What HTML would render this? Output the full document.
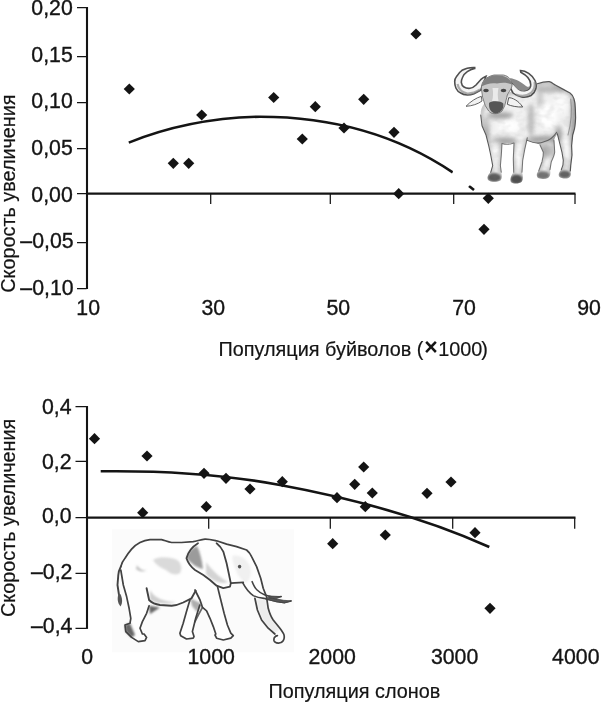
<!DOCTYPE html>
<html lang="ru"><head><meta charset="utf-8"><title>График</title>
<style>
html,body{margin:0;padding:0;background:#fff;overflow:hidden}
svg{display:block;font-family:"Liberation Sans",Arial,Helvetica,sans-serif}
.t{font-size:21.8px;fill:#141414;stroke:#141414;stroke-width:.35px}
.h{font-size:20.2px;fill:#141414;stroke:#141414;stroke-width:.2px}
</style></head>
<body>
<svg width="601" height="703" viewBox="0 0 601 703">
<rect width="601" height="703" fill="#fff"/>

<g id="chart-buffalo">
<g stroke="#141414" fill="none">
<path d="M87 7.1V289.1" stroke-width="2.1"/>
<path d="M86.6 193.7H575.5" stroke-width="2.2"/>
<path d="M77 7.6H86.6M77 56.6H86.6M77 102.5H86.6M77 148.5H86.6M77 193.7H86.6M77 242.6H86.6M77 288.5H86.6" stroke-width="1.25"/>
<path d="M210.7 193.7V204M330.3 193.7V204M453.7 193.7V204M575 193.7V204" stroke-width="1.25"/>
<path d="M128.8 142.6 Q 190 118 260 116.7 Q 370 116.7 452.7 172.3" stroke-width="2.6"/>
<path d="M469 186 L474 190" stroke-width="2.6"/>
</g>
<g fill="#141414"><path d="M129.3 83.4L134.9 89.0L129.3 94.6L123.7 89.0Z"/><path d="M201.7 109.4L207.3 115.0L201.7 120.6L196.1 115.0Z"/><path d="M173.3 157.7L178.9 163.3L173.3 168.9L167.7 163.3Z"/><path d="M188.7 157.7L194.3 163.3L188.7 168.9L183.1 163.3Z"/><path d="M273.7 91.9L279.3 97.5L273.7 103.1L268.1 97.5Z"/><path d="M302.3 133.4L307.9 139.0L302.3 144.6L296.7 139.0Z"/><path d="M315.3 101.1L320.9 106.7L315.3 112.3L309.7 106.7Z"/><path d="M344.0 122.4L349.6 128.0L344.0 133.6L338.4 128.0Z"/><path d="M363.7 93.7L369.3 99.3L363.7 104.9L358.1 99.3Z"/><path d="M394.0 126.7L399.6 132.3L394.0 137.9L388.4 132.3Z"/><path d="M416.0 28.4L421.6 34.0L416.0 39.6L410.4 34.0Z"/><path d="M398.7 188.1L404.3 193.7L398.7 199.3L393.1 193.7Z"/><path d="M488.3 192.7L493.9 198.3L488.3 203.9L482.7 198.3Z"/><path d="M484.0 223.7L489.6 229.3L484.0 234.9L478.4 229.3Z"/></g>
<text class="t" transform="translate(72.8 15.1) scale(0.977 1)" text-anchor="end">0,20</text>
<text class="t" transform="translate(72.8 61.9) scale(0.977 1)" text-anchor="end">0,15</text>
<text class="t" transform="translate(72.8 108.4) scale(0.977 1)" text-anchor="end">0,10</text>
<text class="t" transform="translate(72.8 155.2) scale(0.977 1)" text-anchor="end">0,05</text>
<text class="t" transform="translate(72.8 201.7) scale(0.977 1)" text-anchor="end">0,00</text>
<text class="t" transform="translate(73.6 248.0) scale(0.977 1)" text-anchor="end">–0,05</text>
<text class="t" transform="translate(73.6 295.0) scale(0.977 1)" text-anchor="end">–0,10</text>
<text class="t" transform="translate(88.2 314.9) scale(0.977 1)" text-anchor="middle">10</text>
<text class="t" transform="translate(213.3 314.9) scale(0.977 1)" text-anchor="middle">30</text>
<text class="t" transform="translate(338.3 314.9) scale(0.977 1)" text-anchor="middle">50</text>
<text class="t" transform="translate(464 314.9) scale(0.977 1)" text-anchor="middle">70</text>
<text class="t" transform="translate(589 314.9) scale(0.977 1)" text-anchor="middle">90</text>
<text class="h" transform="translate(218.5 356.4) scale(0.983 1)">Популяция буйволов (<tspan dx="0.9" dy="-1.6" font-size="23.5" font-weight="bold" stroke="none">×</tspan><tspan dx="0.4" dy="1.6">1000</tspan><tspan dx="-1">)</tspan></text>
<text class="h" transform="translate(15.0 292.7) rotate(-90) scale(0.981 1)">Скорость увеличения</text>
</g>
<defs>
<clipPath id="elclip"><rect x="111.7" y="529.2" width="182.3" height="123.2"/></clipPath>
<path id="elSil" d="M120.8 566.6 C122 562 123.5 560 125 558.3 C127 555 129 552 131.6 549.1 C134 546.5 137 544 140 542.5 C143 541 146 540 150 539.6 L161.6 539.6 C165 540.5 168 542 171.6 542.5 L181.5 542.5 L193.2 541.6 C197 541 201 539.5 205 539.1 C209 539 213 540 216.6 540.8 L226.6 544.1 L236.6 546.6 L246.6 550 C249 552 250.5 554 251.6 556.6 L256.6 566.6 L260.7 578.2 L263.2 588.2 L266.5 596.6 L268.2 608.3 C269.5 613 271 617 273.2 620 L279.9 628.2 C282 631 283.5 633 284 634.9 C284.5 637 284.3 639 283.2 640.7 C282 642.5 280 643.3 278.2 643.2 C276 643 274.5 642 274 640.7 L274.9 634 L268.2 628.2 L261.6 620 L257.4 610 L254.9 598.3 L250 590 L243.3 582.4 L230.8 583.2 L230 586.6 L223.3 588.2 L217.5 586.6 L220.8 600 L224.1 613.3 L227.4 625 L230.8 633.2 L233.3 635.7 L230.8 638.2 L223.3 640 L216.6 638.2 L215 635 L215.8 634 L213.3 626.6 L210 618.3 L206.6 610.8 L202.5 607.4 L199.8 605 L195.7 618.3 L192.4 631.6 L194 636.6 L193.2 638.2 L186.5 639 L180.7 635.7 L179.9 633.2 L183.2 623.3 L186.5 611.6 L189.9 600 L183.2 602.5 C180 604 176 605.5 171.6 605.8 L160 605 L149.1 605.8 L146.6 613.3 L142.4 621.6 L140 628.2 L142.4 634 L144.1 634 L146.6 637.4 L145 640.7 L138.3 641.6 L131.6 637.4 L125.8 631.6 L125 625 L130 623.3 L130.8 618.3 L129.1 608.3 L126.6 596.6 L123.3 585 Z"/>
</defs>
<g id="elephant" clip-path="url(#elclip)">
<rect x="111.7" y="529.2" width="182.3" height="123.2" fill="#fbfbfb"/>
<use href="#elSil" fill="#fefefe" filter="url(#bl0)"/>
<g filter="url(#bl3)" fill="#888">
<path d="M153 560 C158 556 168 557 175 559 C181 561 183 568 180 573 C176 576 170 574 166 570 C161 568 156 565 153 560Z" opacity=".3"/>
<path d="M137 565 C139 569 143 571 147 570 C144 572 139 572 136 569Z" opacity=".5"/>
<path d="M186.5 558 C188 552 192 548 197 546 C200 552 202 560 203 569 C198 568 191 564 186.5 558Z" opacity=".65" fill="#666"/>
<path d="M149.1 605.8 L160 607.4 L150 614Z" fill="#555" opacity=".9"/>
<path d="M125 625 L130 623.3 L135 635 L131.6 637.4 L125.8 631.6Z" fill="#555" opacity=".9"/>
<path d="M190 598 L202 604 L197 612 L192 606Z" fill="#777" opacity=".6"/>
<path d="M206 562 C212 570 220 578 228 582 C222 585 212 581 206 574Z" opacity=".35"/>
<path d="M232 556 C238 554 246 558 250 566 C252 574 250 580 246 583 C240 580 234 570 232 556Z" opacity=".13"/>
<path d="M256 599 L266 599 L268 609 L273 620 L280 629 L275 633 L268 627 L261.5 619 L257.5 609Z" opacity=".15"/>
<path d="M150 590 C154 598 164 602 176 602 C168 604.5 156 604 150 600Z" opacity=".4"/>
</g>
<g fill="none" stroke="#424242" stroke-width="1.7" filter="url(#bl0)" stroke-linecap="round" stroke-linejoin="round">
<path d="M120.8 566.6 C122 562 123.5 560 125 558.3 C127 555 129 552 131.6 549.1 C134 546.5 137 544 140 542.5 C143 541 146 540 150 539.6 L161.6 539.6 C165 540.5 168 542 171.6 542.5 L181.5 542.5 L193.2 541.6 C197 541 201 539.5 205 539.1 C209 539 213 540 216.6 540.8 L226.6 544.1 L236.6 546.6 L246.6 550 C249 552 250.5 554 251.6 556.6 L256.6 566.6 L260.7 578.2 L263.2 588.2 L266.5 596.6 L268.2 608.3 C269.5 613 271 617 273.2 620 L279.9 628.2 C282 631 283.5 633 284 634.9 C284.5 637 284.3 639 283.2 640.7 C282 642.5 280 643.3 278.2 643.2 C276 643 274.5 642 274 640.7 C273.8 639 274 638 274.5 637.4 C275.3 636.3 276.3 635.8 277.4 635.7"/>
<path d="M254.9 598.3 L257.4 610 L261.6 620 L268.2 628.2 L274.9 634"/>
<path d="M120.8 566.6 C119 570 118.3 573 118.3 575 L117.5 585 L119 595" stroke-width="1.9"/>
<path d="M120.8 570 L123.3 585 L126.6 596.6 L129.1 608.3 L130.8 618.3 L130 623.3 L125 625 L125.8 631.6 L131.6 637.4 L138.3 641.6 L145 640.7 L146.6 637.4 L144.1 634 L142.4 634 L140 628.2 L142.4 621.6 L146.6 613.3 L149.1 605.8"/>
<path d="M146.6 588.3 L149.1 600 C152 603 156 604.5 160 605 L171.6 605.8 C176 605.5 180 604 183.2 602.5 L191.5 598.3 L195.7 590.8" stroke-width="1.9"/>
<path d="M189.9 600 L186.5 611.6 L183.2 623.3 L179.9 633.2 L180.7 635.7 L186.5 639 L193.2 638.2 L194 636.6 L192.4 631.6 L195.7 618.3 L199.8 605"/>
<path d="M195 590 L200 600 L202.5 607.4 L206.6 610.8 L210 618.3 L213.3 626.6 L215.8 634 L215 635 L216.6 638.2 L223.3 640 L230.8 638.2 L233.3 635.7 L230.8 633.2 L227.4 625 L224.1 613.3 L220.8 600 L217.5 586.6"/>
<path d="M202.5 607.4 L198.3 615 L195 621.6" opacity=".8"/>
<path d="M216.6 543.3 C220 546 222 549 223.3 551.6 L226.6 563.3 L229.1 575 L230.8 583.2 L230 586.6 L223.3 588.2 L216.6 585.7 L210 580 L203.3 575 L195 570 C191 567 188 563 186.5 558.3 C188 552 192 547 198 543.3" stroke-width="1.8"/>
<path d="M230.8 583.2 L243.3 582.4"/>
<path d="M242.8 582.8 C245 587 249 592.5 253.3 595.6 C258 598 262 598.2 264.9 598.5 L276.6 601.4 L284.7 602.6 L291.1 600.9" stroke-width="1.6"/>
<path d="M268.4 597.4 L276.6 599.1 L283.6 600.3 L291.1 600.9 L284.7 602.9 L276.6 601.8 L266 599.2Z" fill="#555" stroke-width="0.8"/>
<path d="M252.1 581.6 C253.5 585 255 588 256.8 589.8 C259 592 262 594 264.9 595 L274.3 597.4 L281.2 596.6" stroke-width="1.5"/>
<path d="M269 596 L281.2 596.6 L276 598.8 L270 598Z" fill="#555" stroke-width="0.8"/>
</g>
<g filter="url(#bl0)">
<path d="M118.5 594 C117 598 117.5 603 120.5 606.5 C122.8 603 122.5 598 120.3 594 Z" fill="#555"/>
<ellipse cx="239.6" cy="566.6" rx="1.7" ry="1.9" fill="#555"/>
</g>
</g>

<g id="chart-elephant">
<g stroke="#141414" fill="none">
<path d="M87 406V628.9" stroke-width="2.1"/>
<path d="M86.6 517.7H575.5" stroke-width="2.2"/>
<path d="M75.5 406.5H86.6M75.5 461.4H86.6M75.5 517.6H86.6M75.5 573.3H86.6M75.5 628.3H86.6" stroke-width="1.25"/>
<path d="M208.7 517.7V528.7M330.3 517.7V528.7M452.7 517.7V528.7M574.7 517.7V528.7" stroke-width="1.25"/>
<path d="M100.7 471.3 Q 200 470 280 485 Q 400 507 489.3 547" stroke-width="2.6"/>
</g>
<g fill="#141414"><path d="M94.5 433.1L100.1 438.7L94.5 444.3L88.9 438.7Z"/><path d="M147.0 450.4L152.6 456.0L147.0 461.6L141.4 456.0Z"/><path d="M142.7 507.1L148.3 512.7L142.7 518.3L137.1 512.7Z"/><path d="M204.0 467.7L209.6 473.3L204.0 478.9L198.4 473.3Z"/><path d="M206.3 501.1L211.9 506.7L206.3 512.3L200.7 506.7Z"/><path d="M226.0 472.7L231.6 478.3L226.0 483.9L220.4 478.3Z"/><path d="M250.0 483.4L255.6 489.0L250.0 494.6L244.4 489.0Z"/><path d="M282.3 476.1L287.9 481.7L282.3 487.3L276.7 481.7Z"/><path d="M337.0 492.1L342.6 497.7L337.0 503.3L331.4 497.7Z"/><path d="M332.7 538.1L338.3 543.7L332.7 549.3L327.1 543.7Z"/><path d="M354.7 478.7L360.3 484.3L354.7 489.9L349.1 484.3Z"/><path d="M363.7 461.4L369.3 467.0L363.7 472.6L358.1 467.0Z"/><path d="M365.3 501.1L370.9 506.7L365.3 512.3L359.7 506.7Z"/><path d="M372.3 487.4L377.9 493.0L372.3 498.6L366.7 493.0Z"/><path d="M385.3 529.4L390.9 535.0L385.3 540.6L379.7 535.0Z"/><path d="M427.0 487.7L432.6 493.3L427.0 498.9L421.4 493.3Z"/><path d="M451.0 476.4L456.6 482.0L451.0 487.6L445.4 482.0Z"/><path d="M475.0 527.1L480.6 532.7L475.0 538.3L469.4 532.7Z"/><path d="M490.0 602.7L495.6 608.3L490.0 613.9L484.4 608.3Z"/></g>
<text class="t" transform="translate(71.5 414.0) scale(0.977 1)" text-anchor="end">0,4</text>
<text class="t" transform="translate(71.5 468.7) scale(0.977 1)" text-anchor="end">0,2</text>
<text class="t" transform="translate(71.5 523.4) scale(0.977 1)" text-anchor="end">0,0</text>
<text class="t" transform="translate(72.4 578.5) scale(0.977 1)" text-anchor="end">–0,2</text>
<text class="t" transform="translate(72.4 633.2) scale(0.977 1)" text-anchor="end">–0,4</text>
<text class="t" transform="translate(87.2 664.3) scale(0.977 1)" text-anchor="middle">0</text>
<text class="t" transform="translate(211.2 664.3) scale(0.977 1)" text-anchor="middle">1000</text>
<text class="t" transform="translate(332.2 664.3) scale(0.977 1)" text-anchor="middle">2000</text>
<text class="t" transform="translate(454.6 664.3) scale(0.977 1)" text-anchor="middle">3000</text>
<text class="t" transform="translate(575.8 664.3) scale(0.977 1)" text-anchor="middle">4000</text>
<text class="h" transform="translate(268.5 698) scale(0.983 1)">Популяция слонов</text>
<text class="h" transform="translate(15.0 617.0) rotate(-90) scale(0.981 1)">Скорость увеличения</text>
</g>
<defs>
<filter id="bl0" x="-10%" y="-10%" width="120%" height="120%"><feGaussianBlur stdDeviation="0.45"/></filter>
<filter id="bl1" x="-10%" y="-10%" width="120%" height="120%"><feGaussianBlur stdDeviation="0.7"/></filter>
<filter id="bl2" x="-30%" y="-30%" width="160%" height="160%"><feGaussianBlur stdDeviation="2"/></filter>
<filter id="bl3" x="-30%" y="-30%" width="160%" height="160%"><feGaussianBlur stdDeviation="1.1"/></filter>
<filter id="tex" x="0" y="0" width="100%" height="100%"><feTurbulence type="fractalNoise" baseFrequency="0.11 0.16" numOctaves="2" seed="11" result="n"/><feColorMatrix in="n" type="matrix" values="0 0 0 0 0.4  0 0 0 0 0.4  0 0 0 0 0.4  0 0 0 -3 1.7"/><feGaussianBlur stdDeviation="0.6"/></filter>
<clipPath id="bufclip"><rect x="452.7" y="62" width="125.5" height="123.6"/></clipPath>
<path id="bfSil" d="M537.3 83.7 C541 82.5 545 81.5 549.3 81.7 C552 82.5 553.5 84 555.3 85 L563.3 89.4 L570 93 C572.5 94.8 573.5 96.5 574 99 C575 102 575.3 105 575.3 108.3 L575.6 117.7 C575.5 121 575.3 123 575 125.7 C574.5 130 573.5 132 572.7 135 L571.6 145.7 L572 155 L570.7 165.7 L570.3 171 C571.5 174 571 177 568 178.2 C565 179 561 178.5 559 176.5 C558 174 559.5 171.5 561.3 169.7 C563 166 563.5 163 563.3 160.3 L562 152.3 L559.3 141.7 L557.3 133.7 C556 135.5 554.5 137.5 554 140.3 L554.7 152.3 C554.3 156 552.5 159 551.3 161.7 L550 169.7 C550.8 173 550.5 176.5 548 178 C545 179.3 540 179.3 537.5 177.5 C536 175 537 172.5 538.7 171 L542 161.7 C543 158 543.5 155 543.3 152.3 L540 145 L536.7 143 C533 143 530 141.5 527.3 140.3 L524.7 149.7 L522.7 160.3 L522 172.3 C523 175 523.3 179 522 181.5 C519.5 184 513.5 184.3 511 182.3 C509.5 179.5 511 175.5 513.7 172.3 L513.3 159 L514 143 L502 143.5 L501.3 155 L500.4 165.7 L501.3 172.3 C502.2 175.5 502 179 500.5 180.5 C497 182.5 490.5 182.3 488 180 C486.5 177 488.5 174 490.7 172.3 L492.7 165.7 L490.7 155 L488.7 145.7 L486 135 L482 125.7 L480.7 115 C480.5 111 481.5 107 484 104 L510 92 Z"/>
<clipPath id="bfAll"><use href="#bfSil"/></clipPath>
</defs>
<g id="buffalo" clip-path="url(#bufclip)">
<rect x="452.7" y="62" width="125.5" height="123.6" fill="#ffffff"/>
<use href="#bfSil" fill="#f1f1f1" filter="url(#bl0)"/>
<g clip-path="url(#bfAll)">
<use href="#bfSil" filter="url(#bl2)" fill="none" stroke="#6e6e6e" stroke-width="4" opacity=".45"/>
<g filter="url(#bl2)" fill="#fff">
<ellipse cx="548" cy="116" rx="9" ry="12" opacity=".95"/>
<ellipse cx="509" cy="126" rx="11" ry="7" opacity=".9"/>
<ellipse cx="561" cy="104" rx="6" ry="9" opacity=".7"/>
<ellipse cx="494.5" cy="157" rx="2.6" ry="12" opacity=".9"/>
<ellipse cx="518.5" cy="157" rx="2.6" ry="13" opacity=".9"/>
<ellipse cx="566.5" cy="150" rx="2.4" ry="14" opacity=".8"/>
<ellipse cx="548" cy="160" rx="2.6" ry="8" opacity=".7"/>
</g>
<g filter="url(#bl2)" fill="#6a6a6a">
<ellipse cx="531" cy="120" rx="3.2" ry="17" opacity=".4"/>
<ellipse cx="544" cy="139" rx="14" ry="3.2" opacity=".6"/>
<ellipse cx="504" cy="140" rx="13" ry="3" opacity=".5"/>
<ellipse cx="500" cy="115.5" rx="13" ry="3.2" opacity=".6"/>
<ellipse cx="547" cy="151" rx="5.5" ry="7" opacity=".45"/>
<ellipse cx="550" cy="89" rx="15" ry="3.5" opacity=".4"/>
<ellipse cx="573.5" cy="122" rx="2.5" ry="26" opacity=".55"/>
<ellipse cx="559" cy="133" rx="3" ry="8" opacity=".45"/>
<ellipse cx="487" cy="128" rx="3" ry="12" opacity=".35"/>
<ellipse cx="540" cy="98" rx="3" ry="8" opacity=".3"/>
</g>
<rect x="452" y="62" width="127" height="124" filter="url(#tex)" opacity=".18"/>
<g filter="url(#bl3)">
<ellipse cx="494.3" cy="177.5" rx="6.8" ry="4.4" fill="#464646" opacity=".85"/>
<ellipse cx="516.5" cy="179.3" rx="6.2" ry="4.8" fill="#404040" opacity=".9"/>
<ellipse cx="543" cy="175.2" rx="6.5" ry="3.9" fill="#585858" opacity=".8"/>
<ellipse cx="564.7" cy="174.4" rx="5.8" ry="3.9" fill="#4c4c4c" opacity=".85"/>
</g>
</g>
<g fill="none" stroke="#585858" stroke-width="1.05" filter="url(#bl0)" stroke-linecap="round" stroke-linejoin="round">
<path d="M537.3 83.7 C541 82.5 545 81.5 549.3 81.7 C552 82.5 553.5 84 555.3 85 L563.3 89.4 L570 93 C572.5 94.8 573.5 96.5 574 99 C575 102 575.3 105 575.3 108.3 L575.6 117.7 C575.5 121 575.3 123 575 125.7 C574.5 130 573.5 132 572.7 135 L571.6 145.7 L572 155 L570.7 165.7 L570.3 171" stroke-width="1.2" stroke="#555"/>
<path d="M561.3 169.7 C563 166 563.5 163 563.3 160.3 L562 152.3 L559.3 141.7 L557.3 133.7"/>
<path d="M554 140.3 L554.7 152.3 C554.3 156 552.5 159 551.3 161.7 L550 169.7" opacity=".8"/>
<path d="M538.7 171 L542 161.7 C543 158 543.5 155 543.3 152.3 L540 145" opacity=".8"/>
<path d="M556.7 132.3 C554 136.5 549 140.5 544.7 141.5 C541 143 538 143.3 536.7 143 C533 143 530 141.5 527.3 140.3" opacity=".9"/>
<path d="M527.3 137.7 L524.7 149.7 L522.7 160.3 L522 172.3" opacity=".8"/>
<path d="M513.7 172.3 L513.3 159 L514 143 C510 144.5 505 144.5 502 143.5 L501.3 155 L500.4 165.7 L501.3 172.3" opacity=".8"/>
<path d="M490.7 172.3 L492.7 165.7 L490.7 155 L488.7 145.7 L486 135 L482 125.7 L480.7 115" />
<path d="M570.7 99 C572 110 571 124 568 135" opacity=".5"/>
</g>
<g filter="url(#bl1)">
<!-- horns -->
<path d="M474.7 67.5 C470 67.3 465 68.5 462 70.3 C459.5 72 458 74 456.7 76.3 C455.3 78 454.7 80 454.7 81.7 C454.7 84 455 86 456 88.3 C457 90.5 458.5 92 460.7 93 C462.5 94.2 465 94.8 467.3 95 C470 95 472 94.5 474 93.7 L480.7 90.3 L486 76.3 C484 77 482.5 78 480.7 79.7 L476 85 C474 87 472 88 470 88.3 C467.5 88.5 465.5 88 464 87 C462.5 86 461.5 84 461.3 82.3 C461.3 80 462 78.5 462.7 77 C463.5 75 465.5 73 467.3 71.7 C469.5 70 472 69 474.7 68.5 Z" fill="#f4f4f4" stroke="#505050" stroke-width="1.6"/>
<path d="M520.5 70.5 C526 70.8 532 74.5 535 80.5 C537.5 86 536 92 531 95.5 C525 98.5 518 97 513 93 L506 80 C511 80.5 514.5 85 518.5 89 C523 92 529 91 530.5 86.5 C531.5 81.5 528 76 520.8 72.2 Z" fill="#f4f4f4" stroke="#505050" stroke-width="1.6"/>
<path d="M510 78 C516 79 522 82.5 526 86 C528.5 88 530.5 88 531 85 C529 91.5 522 92 518 89.5 C514 86 511.5 82 510 78Z" fill="#8a8a8a"/>
<path d="M457.5 84 C458.5 89 462 92.5 467.3 93.5 C472 93.8 476 92 480 89.5" fill="none" stroke="#8a8a8a" stroke-width="2.2" opacity=".7"/>
<path d="M516 94.5 C521 96.5 527 96 531 93 C534 90 535.3 86 534.6 82" fill="none" stroke="#8a8a8a" stroke-width="2.2" opacity=".7"/>
<!-- ears -->
<path d="M481.3 96.3 C476 98 470.5 101.5 466 106.3 C472 106 478 104 482 101 Z" fill="#f2f2f2" stroke="#555" stroke-width="0.9"/>
<path d="M508.7 97.7 C512 97.5 518.5 100.5 522.7 107 C517 107.3 511 106 507.3 104.3 Z" fill="#f2f2f2" stroke="#484848" stroke-width="0.9"/>
<!-- head -->
<path d="M481.3 88.3 C481.5 82 485 77 494 75 L503.3 75 C509 76 512 80 512 86 C511 90 508 93 507.3 95 L506.7 97.7 L504.7 105.7 L502 111 C500 113 497 114 494 113.7 C491.5 113.5 490 112.5 488.7 111 L485.3 105.7 L482.7 97.7 Z" fill="#c9c9c9" stroke="#666" stroke-width="0.8"/>
<path d="M481.5 86.5 C483 79.5 488 75.8 496 75.2 C504 75 510.5 78 512.5 84.5 C507 82.5 502 82.5 497 83.5 C491 82.5 486 84 481.5 86.5 Z" fill="#808080"/>
<path d="M489 103 C491 100.5 501 100.5 503.3 103.5 C504 108 501.5 112.5 496 113.5 C491 113.3 488.5 108.5 489 103 Z" fill="#565656"/>
<ellipse cx="486" cy="90.5" rx="2.8" ry="1.7" fill="#454545"/>
<ellipse cx="503.5" cy="90.5" rx="2.8" ry="1.7" fill="#454545"/>
<path d="M492.5 88 C493.5 93 493 98 492 101 L498.5 101 C497.5 97 497.5 92 498.5 88 Z" fill="#f3f3f3" opacity=".8"/>
</g>
</g>

</svg>
</body></html>
